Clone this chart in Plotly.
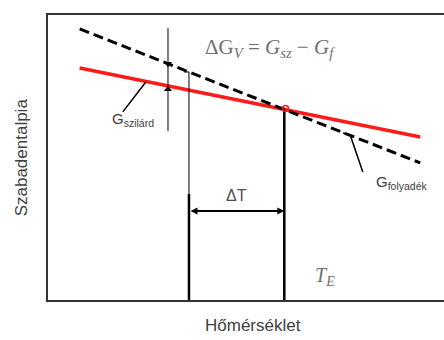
import plotly.graph_objects as go

# Schematic free-enthalpy lines of solid and liquid vs temperature
T_line = [8.0, 94.0]                 # temperature span of both lines
G_szilard = [81.4, 57.2]             # solid phase
G_folyadek = [95.1, 48.1]            # liquid phase
T_under = 35.6                       # undercooled temperature
T_meas = 30.3                        # where the ΔG_V gap is marked
y_dT = 31.2                          # height of the ΔT dimension arrow


def line_val(xs, ys, x):
    return ys[0] + (ys[1] - ys[0]) * (x - xs[0]) / (xs[1] - xs[0])


# equilibrium temperature: crossing point of the two lines
s1 = (G_szilard[1] - G_szilard[0]) / (T_line[1] - T_line[0])
s2 = (G_folyadek[1] - G_folyadek[0]) / (T_line[1] - T_line[0])
T_E = T_line[0] + (G_folyadek[0] - G_szilard[0]) / (s1 - s2)
G_E = line_val(T_line, G_szilard, T_E)

fig = go.Figure()

fig.add_trace(go.Scatter(x=T_line, y=G_szilard, mode="lines",
                         line=dict(color="#ff1a1a", width=3.5)))
fig.add_trace(go.Scatter(x=T_line, y=G_folyadek, mode="lines",
                         line=dict(color="black", width=3, dash="10px,5px")))

# ΔG_V marker line with arrowheads on both curves
g_s = line_val(T_line, G_szilard, T_meas)
g_l = line_val(T_line, G_folyadek, T_meas)
fig.add_trace(go.Scatter(x=[T_meas, T_meas], y=[95.4, 59.3], mode="lines",
                         line=dict(color="black", width=1)))
fig.add_trace(go.Scatter(x=[T_meas, T_meas], y=[g_s - 1.2, g_l], mode="markers",
                         marker=dict(symbol=["triangle-up", "triangle-down"],
                                     size=7, color="black")))

# undercooled temperature: thin upper part, thick lower part
g_u = line_val(T_line, G_folyadek, T_under)
fig.add_trace(go.Scatter(x=[T_under - 1.3, T_under, T_under], y=[g_u, g_u, y_dT + 6],
                         mode="lines", line=dict(color="black", width=1)))
fig.add_trace(go.Scatter(x=[T_under, T_under], y=[y_dT + 6, -0.8], mode="lines",
                         line=dict(color="black", width=2.5), cliponaxis=False))

# equilibrium temperature line
fig.add_trace(go.Scatter(x=[T_E, T_E], y=[G_E, 0], mode="lines",
                         line=dict(color="black", width=2.5)))
fig.add_trace(go.Scatter(x=[T_E + 0.3], y=[G_E + 0.3], mode="markers",
                         marker=dict(symbol="circle-open", size=6, color="#ff1a1a",
                                     line=dict(width=1.5))))

# leader lines for the labels
fig.add_trace(go.Scatter(x=[18.9, 24.7], y=[66.0, 76.5], mode="lines",
                         line=dict(color="black", width=1.5)))
fig.add_trace(go.Scatter(x=[79.5, 76.3, 74.5], y=[44.9, 57.9, 58.6], mode="lines",
                         line=dict(color="black", width=1.5)))

# ΔT dimension arrow
fig.add_annotation(x=T_E, y=y_dT, ax=T_under, ay=y_dT, xref="x", yref="y",
                   axref="x", ayref="y", text="", showarrow=True,
                   arrowhead=2, startarrowhead=2, arrowside="end+start",
                   arrowsize=0.7, arrowwidth=2, arrowcolor="black")

serif = "Liberation Serif, Times New Roman, serif"
sans = "Liberation Sans, Arial, sans-serif"


def label(x, y, text, family, size, color, xref="x", yref="y", angle=0):
    fig.add_annotation(x=x, y=y, xref=xref, yref=yref, text=text, textangle=angle,
                       xanchor="center", yanchor="middle", showarrow=False,
                       font=dict(family=family, size=size, color=color))


label(56.1, 88.4, "ΔG<sub><i>V</i></sub> = <i>G</i><sub><i>sz</i></sub> − <i>G</i><sub><i>f</i></sub>",
      serif, 21, "#707070")
label(70.0, 8.1, "<i>T</i><sub><i>E</i></sub>", serif, 20, "#707070")
label(21.4, 63.2, "G<sub>szilárd</sub>", sans, 15, "#404040")
label(89.3, 41.4, "G<sub>folyadék</sub>", sans, 15, "#404040")
label(47.7, 36.8, "ΔT", sans, 16, "#505050")

label(-0.066, 0.5, "Szabadentalpia", sans, 17, "#404040", "paper", "paper", -90)
label(0.518, -0.09, "Hőmérséklet", sans, 17, "#404040", "paper", "paper")

fig.update_xaxes(range=[0, 100], showgrid=False, zeroline=False, showticklabels=False,
                 ticks="", showline=True, mirror=True, linecolor="#333333", linewidth=1.5)
fig.update_yaxes(range=[0, 100], showgrid=False, zeroline=False, showticklabels=False,
                 ticks="", showline=True, linecolor="#333333", linewidth=1.5)

fig.update_layout(width=444, height=340, showlegend=False,
                  margin=dict(l=48, r=0, t=15, b=40),
                  paper_bgcolor="white", plot_bgcolor="white")

fig.write_html("out.html")
